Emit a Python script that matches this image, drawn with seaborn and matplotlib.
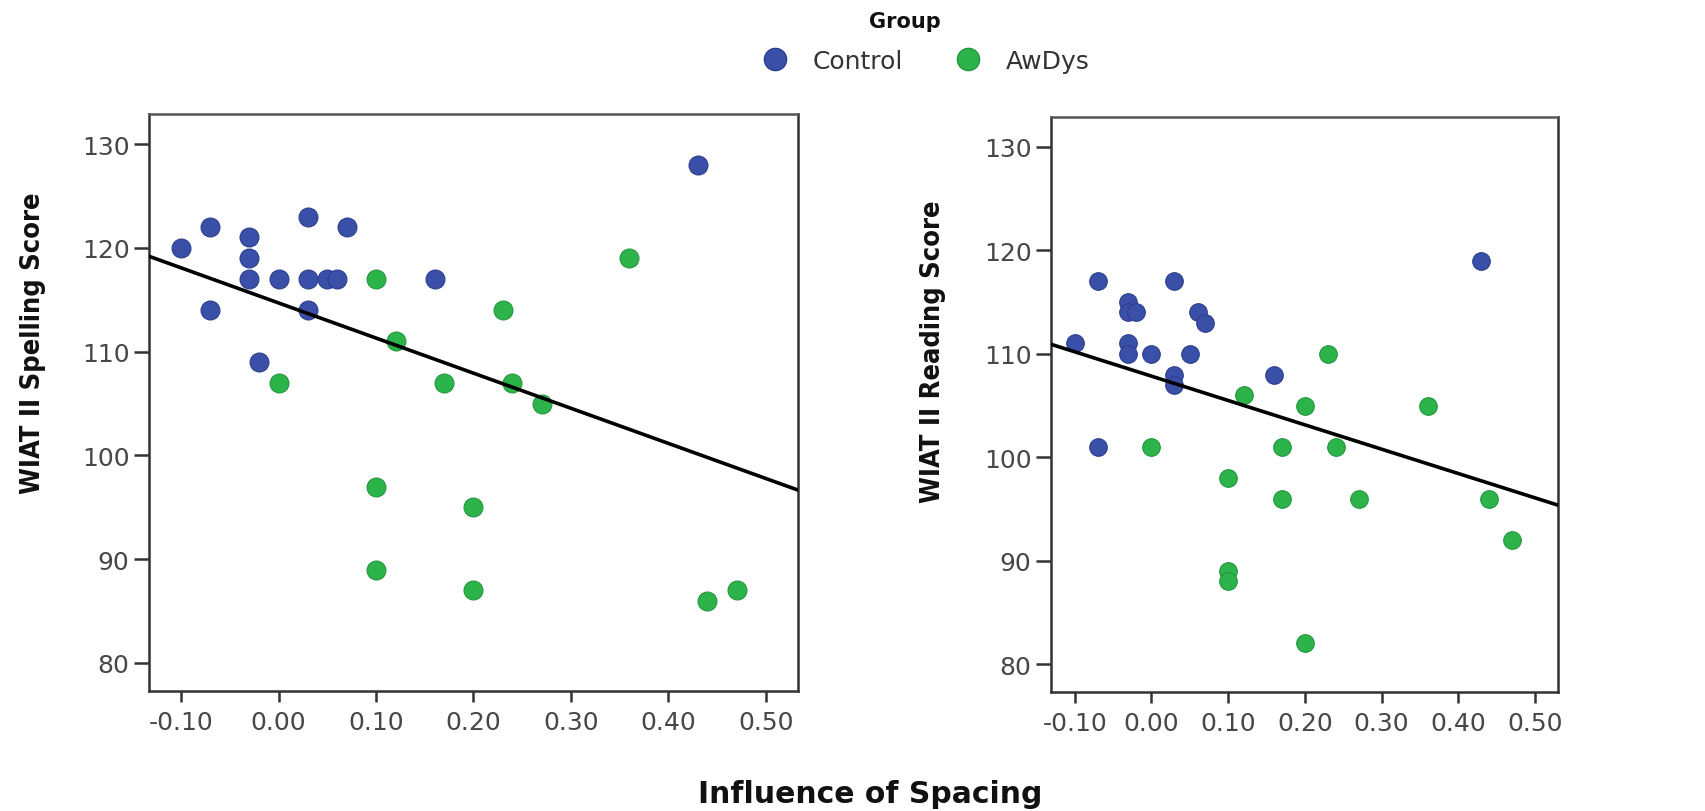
import numpy as np
import pandas as pd
import matplotlib
matplotlib.use("Agg")
import matplotlib.pyplot as plt
import seaborn as sns
from matplotlib.lines import Line2D

# ---- data ----
groups = ["Control", "AwDys"]

spell_ctrl_x = [-0.10, -0.07, -0.03, -0.03, -0.03, 0.00, 0.03, 0.03, 0.05, 0.06, 0.07, 0.16, -0.07, 0.03, -0.02, 0.43]
spell_ctrl_y = [120, 122, 121, 119, 117, 117, 123, 117, 117, 117, 122, 117, 114, 114, 109, 128]
spell_dys_x = [0.10, 0.23, 0.12, 0.00, 0.17, 0.24, 0.27, 0.10, 0.20, 0.10, 0.20, 0.36, 0.44, 0.47]
spell_dys_y = [117, 114, 111, 107, 107, 107, 105, 97, 95, 89, 87, 119, 86, 87]

read_ctrl_x = [-0.10, -0.07, -0.03, -0.03, -0.02, -0.03, -0.03, 0.00, 0.03, 0.06, 0.07, 0.05, 0.03, 0.03, 0.16, 0.43, -0.07]
read_ctrl_y = [111, 117, 115, 114, 114, 111, 110, 110, 117, 114, 113, 110, 108, 107, 108, 119, 101]
read_dys_x = [0.23, 0.12, 0.20, 0.36, 0.00, 0.17, 0.24, 0.10, 0.17, 0.27, 0.44, 0.47, 0.10, 0.10, 0.20]
read_dys_y = [110, 106, 105, 105, 101, 101, 101, 98, 96, 96, 96, 92, 89, 88, 82]

x_ticks = [-0.10, 0.00, 0.10, 0.20, 0.30, 0.40, 0.50]
x_tick_labels = ["-0.10", "0.00", "0.10", "0.20", "0.30", "0.40", "0.50"]
y_ticks = [80, 90, 100, 110, 120, 130]

y_labels = ["WIAT II Spelling Score", "WIAT II Reading Score"]
x_label = "Influence of Spacing"
legend_title = "Group"

colors = {"Control": "#3a4fa8", "AwDys": "#2cb44a"}
edges = {"Control": "#2c3d8c", "AwDys": "#22963c"}


def make_df(cx, cy, dx, dy):
    return pd.DataFrame({
        "x": list(cx) + list(dx),
        "y": list(cy) + list(dy),
        "Group": ["Control"] * len(cx) + ["AwDys"] * len(dx),
    })


df_spell = make_df(spell_ctrl_x, spell_ctrl_y, spell_dys_x, spell_dys_y)
df_read = make_df(read_ctrl_x, read_ctrl_y, read_dys_x, read_dys_y)

sns.set_theme(style="white")
plt.rcParams["font.family"] = ["DejaVu Sans"]

fig = plt.figure(figsize=(17.06, 8.12), dpi=100)
ax1 = fig.add_axes([149 / 1706, 1 - 692 / 812, 649 / 1706, 577 / 812])
ax2 = fig.add_axes([1051 / 1706, 1 - 693 / 812, 507 / 1706, 575 / 812])

panels = [
    (ax1, df_spell, (-0.133, 0.533), y_labels[0], (-0.158, 0.605), 185),
    (ax2, df_read, (-0.208, 0.593), y_labels[1], None, 160),
]
panels[1] = (ax2, df_read, (-0.131, 0.530), y_labels[1], (-0.208, 0.593), 160)

for ax, df, xl, ylab, lc, ms in panels:
    ax.set_xlim(*xl)
    ax.set_ylim(77.3, 132.9)
    for g in groups:
        sub = df[df["Group"] == g]
        sns.scatterplot(data=sub, x="x", y="y", ax=ax, color=colors[g],
                        edgecolor=edges[g], linewidth=0.8, s=ms, legend=False,
                        zorder=3)
    sns.regplot(data=df, x="x", y="y", ax=ax, scatter=False, ci=None,
                truncate=False, color="black", line_kws={"lw": 2.6, "zorder": 4})
    ax.set_xlim(*xl)
    ax.set_ylim(77.3, 132.9)
    ax.set_xticks(x_ticks)
    ax.set_xticklabels(x_tick_labels)
    ax.set_yticks(y_ticks)
    ax.set_xlabel("")
    ax.set_ylabel(ylab, fontsize=19.5, fontweight="bold", fontstretch="condensed",
                  color="#111111")
    ax.yaxis.set_label_coords(*lc)
    ax.tick_params(axis="x", which="major", direction="out", length=8, width=1.8,
                   color="#333333", labelsize=18, labelcolor="#474747", pad=6,
                   bottom=True)
    ax.tick_params(axis="y", which="major", direction="out", length=11, width=1.8,
                   color="#333333", labelsize=18, labelcolor="#474747", pad=3,
                   left=True)
    for sp in ax.spines.values():
        sp.set_visible(True)
        sp.set_color("#333333")
        sp.set_linewidth(1.8)
    ax.spines["top"].set_color("#555555")

fig.text(870 / 1706, 1 - 795 / 812, x_label, ha="center", va="center",
         fontsize=21.5, fontweight="bold", color="#111111")

fig.text(905 / 1706, 1 - 22 / 812, legend_title, ha="center", va="center",
         fontsize=15, fontweight="bold", color="#111111")
handles = [Line2D([0], [0], marker="o", linestyle="", markersize=16,
                  markerfacecolor=colors[g], markeredgecolor=edges[g]) for g in groups]
leg = fig.legend(handles, groups, loc="center",
                 bbox_to_anchor=(920 / 1706, 1 - 62 / 812), ncol=2, frameon=False,
                 fontsize=18, handletextpad=0.5, columnspacing=1.6,
                 borderpad=0.1)
for t in leg.get_texts():
    t.set_color("#333333")

fig.savefig("out.png", dpi=100, facecolor="white")
